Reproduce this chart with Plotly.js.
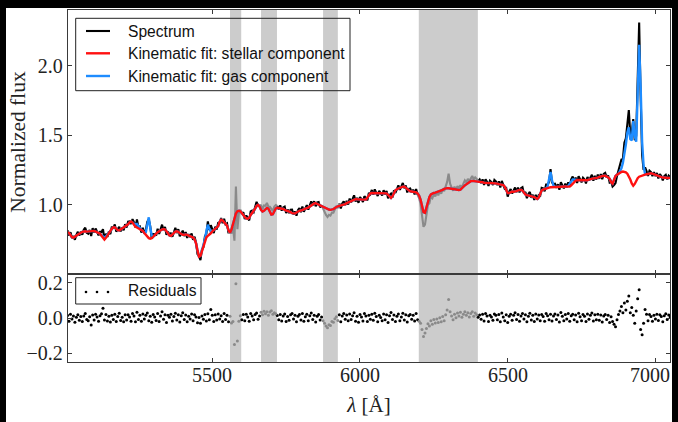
<!DOCTYPE html>
<html>
<head>
<meta charset="utf-8">
<script src="https://cdn.plot.ly/plotly-3.0.1.min.js"></script>
<style>
  html, body { margin: 0; padding: 0; background: #000; width: 678px; height: 422px; overflow: hidden; }
  #plot { position: absolute; left: 6px; top: 8px; width: 666px; height: 414px; background: #fff; }
</style>
</head>
<body>
<div id="plot"></div>
<script>
// Wavelength sampling of the spectrum (Angstrom)
const WAVE_START = 5010;
const WAVE_STEP = 5;

// Best-fitting stellar continuum (normalized flux), one value per 5 A step from 5010 A
const STELLAR = [
  0.800,0.795,0.780,0.765,0.762,0.770,0.778,0.785,0.790,0.797, // 5010
  0.803,0.806,0.807,0.805,0.806,0.810,0.813,0.813,0.810,0.805, // 5060
  0.800,0.797,0.790,0.775,0.757,0.748,0.760,0.780,0.795,0.810, // 5110
  0.825,0.836,0.835,0.825,0.815,0.813,0.820,0.830,0.837,0.840, // 5160
  0.845,0.858,0.872,0.878,0.870,0.855,0.840,0.835,0.830,0.822, // 5210
  0.817,0.810,0.795,0.780,0.768,0.758,0.754,0.758,0.768,0.782, // 5260
  0.791,0.800,0.808,0.815,0.820,0.823,0.820,0.808,0.790,0.778, // 5310
  0.775,0.785,0.797,0.805,0.807,0.804,0.795,0.786,0.782,0.782, // 5360
  0.785,0.782,0.776,0.771,0.769,0.762,0.750,0.720,0.670,0.625, // 5410
  0.630,0.665,0.700,0.740,0.763,0.775,0.782,0.793,0.806,0.815, // 5460
  0.822,0.832,0.845,0.875,0.890,0.885,0.872,0.865,0.848,0.815, // 5510
  0.797,0.820,0.860,0.890,0.935,0.952,0.955,0.951,0.940,0.925, // 5560
  0.910,0.900,0.898,0.905,0.925,0.945,0.955,0.970,0.990,0.998, // 5610
  0.985,0.962,0.950,0.955,0.967,0.975,0.970,0.950,0.928,0.930, // 5660
  0.955,0.972,0.976,0.975,0.974,0.973,0.968,0.962,0.958,0.957, // 5710
  0.952,0.945,0.938,0.934,0.935,0.942,0.950,0.955,0.957,0.960, // 5760
  0.966,0.970,0.974,0.978,0.985,0.995,1.003,1.008,1.010,1.005, // 5810
  0.998,0.992,0.990,0.985,0.977,0.970,0.966,0.964,0.962,0.962, // 5860
  0.966,0.975,0.983,0.987,0.990,0.993,0.996,0.998,1.003,1.010, // 5910
  1.015,1.020,1.023,1.030,1.036,1.039,1.038,1.036,1.034,1.034, // 5960
  1.035,1.035,1.036,1.050,1.068,1.080,1.083,1.083,1.082,1.082, // 6010
  1.083,1.083,1.082,1.080,1.080,1.082,1.080,1.070,1.055,1.047, // 6060
  1.060,1.085,1.103,1.110,1.115,1.120,1.125,1.128,1.129,1.120, // 6110
  1.110,1.100,1.095,1.094,1.092,1.090,1.087,1.080,1.065,1.035, // 6160
  0.990,0.945,0.940,0.985,1.030,1.055,1.072,1.080,1.083,1.086, // 6210
  1.090,1.092,1.094,1.100,1.106,1.112,1.116,1.118,1.117,1.115, // 6260
  1.112,1.109,1.107,1.106,1.105,1.105,1.107,1.115,1.128,1.138, // 6310
  1.145,1.155,1.163,1.168,1.170,1.169,1.167,1.166,1.165,1.164, // 6360
  1.162,1.160,1.157,1.155,1.154,1.154,1.155,1.155,1.154,1.154, // 6410
  1.152,1.150,1.147,1.145,1.142,1.140,1.128,1.100,1.082,1.082, // 6460
  1.090,1.093,1.092,1.093,1.097,1.102,1.105,1.106,1.100,1.085, // 6510
  1.072,1.068,1.066,1.064,1.060,1.056,1.053,1.047,1.040,1.050, // 6560
  1.078,1.100,1.108,1.113,1.117,1.120,1.122,1.124,1.125,1.126, // 6610
  1.127,1.128,1.129,1.129,1.130,1.131,1.131,1.130,1.129,1.129, // 6660
  1.130,1.138,1.150,1.160,1.172,1.177,1.176,1.175,1.174,1.173, // 6710
  1.172,1.172,1.175,1.180,1.184,1.187,1.188,1.189,1.190,1.194, // 6760
  1.198,1.203,1.206,1.208,1.207,1.203,1.195,1.185,1.160,1.150, // 6810
  1.175,1.205,1.215,1.222,1.230,1.235,1.237,1.237,1.232,1.222, // 6860
  1.205,1.180,1.152,1.135,1.148,1.172,1.190,1.200,1.205,1.210, // 6910
  1.213,1.215,1.218,1.221,1.224,1.225,1.222,1.217,1.211,1.206, // 6960
  1.202,1.200,1.197,1.194,1.192,1.190,1.190,1.191,1.192        // 7010
];

// Fit residuals (spectrum minus total fit), same sampling
const RESIDUALS = [
  0.014,-0.018,0.021,-0.006,0.011,-0.024,0.004,0.019,-0.013,0.008,   // 5010
  -0.020,0.012,0.026,-0.009,-0.016,0.007,-0.040,0.017,-0.011,0.022,  // 5060
  0.005,-0.019,0.013,0.024,0.055,-0.012,0.020,-0.017,0.010,-0.023,   // 5110
  0.016,-0.008,0.022,-0.020,0.009,0.027,-0.014,0.004,-0.022,0.018,   // 5160
  -0.011,0.019,0.006,-0.018,0.025,0.012,-0.021,0.032,-0.008,0.015,   // 5210
  -0.019,0.023,-0.005,0.016,0.028,-0.015,0.010,-0.024,0.020,0.006,   // 5260
  -0.014,0.026,-0.020,0.012,0.035,-0.007,0.018,-0.026,0.015,0.004,   // 5310
  0.021,-0.017,0.008,0.027,-0.012,0.019,-0.023,0.013,0.030,-0.009,   // 5360
  0.017,-0.022,0.010,-0.005,0.023,-0.015,0.018,0.006,-0.027,0.003,   // 5410
  -0.030,0.011,-0.007,0.020,-0.017,0.024,-0.010,0.048,0.015,-0.020,  // 5460
  0.018,-0.012,0.023,-0.005,0.013,-0.020,0.026,-0.009,0.016,-0.022,  // 5510
  0.010,-0.028,-0.020,-0.150,0.195,-0.130,-0.018,0.013,-0.010,0.020, // 5560
  -0.015,0.021,0.006,-0.019,0.025,0.011,-0.010,0.020,0.029,-0.007,   // 5610
  0.012,0.032,0.018,0.038,0.024,0.036,0.015,0.034,0.041,0.022,       // 5660
  0.030,0.024,0.014,-0.010,0.020,-0.017,0.011,0.023,-0.020,0.008,    // 5710
  -0.013,0.018,0.026,-0.006,0.015,-0.022,0.010,0.020,-0.012,0.025,   // 5760
  -0.018,0.007,0.022,-0.015,0.013,0.028,-0.009,0.016,-0.023,0.010,   // 5810
  0.020,-0.012,0.005,-0.016,-0.030,-0.045,-0.055,-0.038,-0.042,-0.020, // 5860
  -0.024,-0.004,0.007,-0.014,0.018,-0.022,0.012,0.025,-0.007,0.017,  // 5910
  -0.015,0.023,-0.008,0.013,0.030,-0.018,0.010,-0.024,0.020,0.005,   // 5960
  -0.017,0.025,0.012,-0.020,0.016,-0.007,0.022,-0.013,0.027,0.008,   // 6010
  -0.022,0.015,0.003,-0.015,0.023,-0.010,0.018,-0.025,0.013,0.031,   // 6060
  -0.009,0.017,-0.020,0.010,0.023,-0.015,0.005,0.027,-0.012,0.018,   // 6110
  -0.023,0.013,0.020,-0.007,0.015,-0.017,0.025,-0.010,-0.018,-0.030, // 6160
  -0.065,-0.105,-0.085,-0.060,-0.032,-0.045,-0.015,-0.035,-0.008,-0.028, // 6210
  -0.005,-0.026,0.002,-0.022,0.008,-0.016,0.018,0.045,0.105,0.035,   // 6260
  0.012,-0.010,0.022,0.002,0.028,0.012,0.032,0.004,0.022,0.036,      // 6310
  0.015,0.030,0.006,0.026,0.036,0.010,0.028,0.018,0.004,0.017,       // 6360
  -0.007,0.021,-0.017,0.026,0.011,-0.020,0.016,0.006,-0.013,0.023,   // 6410
  0.015,-0.010,0.020,-0.022,0.028,0.005,-0.015,0.018,-0.025,0.010,   // 6460
  0.022,-0.013,0.016,0.030,-0.008,0.020,-0.018,0.012,0.025,-0.006,   // 6510
  0.018,-0.022,0.010,0.027,-0.012,0.015,-0.020,0.023,-0.005,0.017,   // 6560
  -0.015,0.020,0.008,-0.018,0.026,0.013,-0.010,0.021,-0.017,0.012,   // 6610
  0.023,-0.008,0.017,-0.023,0.031,0.010,-0.015,0.020,-0.005,0.025,   // 6660
  -0.018,0.013,0.022,-0.010,0.017,-0.022,0.027,0.007,-0.015,0.020,   // 6710
  0.010,-0.020,0.023,-0.007,0.015,0.028,-0.017,0.018,-0.010,0.022,   // 6760
  -0.013,0.017,-0.023,0.012,0.020,-0.008,0.015,-0.026,0.007,-0.020,  // 6810
  -0.035,-0.050,-0.010,0.020,0.040,0.065,0.030,0.085,0.045,0.095,    // 6860
  0.125,0.030,0.060,0.015,-0.030,0.040,0.110,0.160,-0.065,-0.095,    // 6910
  -0.030,0.048,0.022,-0.015,0.020,0.009,-0.018,0.016,-0.006,0.021,   // 6960
  -0.014,0.019,0.008,-0.021,0.013,0.024,-0.009,0.017,0.006           // 7010
];

// Emission-line (gas) component, nonzero only at these wavelengths
const GAS_WAVE = [
  5125,5130,5135,5140,5145,
  5235,5240,5245,5250,5255,
  5275,5280,5285,5290,5295,
  5475,5480,5485,5490,5495,
  6635,6640,6645,6650,6655,
  6705,6710,6715,6720,6725,6730,
  6880,6885,6890,6895,6900,6905,6910,6915,6920,6925,6930,6935,6940,6945,6950,6955,6960,6965
];
const GAS_FLUX = [
  0.004,0.010,0.015,0.010,0.004,
  0.005,0.015,0.025,0.015,0.005,
  0.020,0.080,0.150,0.080,0.020,
  0.010,0.045,0.080,0.045,0.010,
  0.010,0.050,0.110,0.050,0.010,
  0.005,0.020,0.030,0.030,0.020,0.005,
  0.010,0.025,0.063,0.123,0.200,0.295,0.350,0.290,0.310,0.465,0.345,0.280,0.660,0.950,0.645,0.240,0.067,0.005
];

// Wavelength windows excluded from the fit
const MASKS = [[5560, 5598], [5665, 5719], [5875, 5925], [6199, 6399]];

const X_TICKS = [5500, 6000, 6500, 7000];
const FLUX_TICKS = [1.0, 1.5, 2.0];
const RESID_TICKS = [-0.2, 0.0, 0.2];

const LABEL_SPECTRUM = 'Spectrum';
const LABEL_STELLAR = 'Kinematic fit: stellar component';
const LABEL_GAS = 'Kinematic fit: gas component';
const LABEL_RESID = 'Residuals';

// ---- derived series ----
const wave = STELLAR.map((_, i) => WAVE_START + i * WAVE_STEP);
const gas = wave.map(w => { const k = GAS_WAVE.indexOf(w); return k < 0 ? 0 : GAS_FLUX[k]; });
const totalFit = STELLAR.map((s, i) => s + gas[i]);
const spectrum = totalFit.map((t, i) => t + RESIDUALS[i]);

const inMask = w => MASKS.some(([a, b]) => w >= a && w <= b);
const masked = wave.map(inMask);
const maskedEdge = wave.map((w, i) => masked[i] || (i > 0 && masked[i - 1]) || (i < wave.length - 1 && masked[i + 1]));

const specFit = spectrum.map((v, i) => masked[i] ? null : v);
const specMasked = spectrum.map((v, i) => maskedEdge[i] ? v : null);
const residFit = RESIDUALS.map((v, i) => masked[i] ? null : v);
const residMasked = RESIDUALS.map((v, i) => masked[i] ? v : null);

const BLACK = '#000000', GREY = '#8a8a8a', RED = '#ff1010', BLUE = '#1e8cff';
const SERIF = 'Liberation Serif, DejaVu Serif, serif';
const SANS = 'Liberation Sans, Arial, sans-serif';

const traces = [
  { x: wave, y: specFit, xaxis: 'x', yaxis: 'y', mode: 'lines', name: LABEL_SPECTRUM,
    line: { color: BLACK, width: 2.1 }, connectgaps: false },
  { x: wave, y: specMasked, xaxis: 'x', yaxis: 'y', mode: 'lines',
    line: { color: GREY, width: 2.1 }, connectgaps: false },
  { x: wave, y: totalFit, xaxis: 'x', yaxis: 'y', mode: 'lines', name: LABEL_GAS,
    line: { color: BLUE, width: 2.4 } },
  { x: wave, y: STELLAR, xaxis: 'x', yaxis: 'y', mode: 'lines', name: LABEL_STELLAR,
    line: { color: RED, width: 2.4 } },
  { x: wave, y: residFit, xaxis: 'x2', yaxis: 'y2', mode: 'markers', name: LABEL_RESID,
    marker: { color: BLACK, size: 3 } },
  { x: wave, y: residMasked, xaxis: 'x2', yaxis: 'y2', mode: 'markers',
    marker: { color: GREY, size: 3 } }
];

// ---- frame geometry (pixels inside the plot div) ----
const DIV_X = 6, DIV_Y = 8;
const PLOT_L = 62, PLOT_T = 2, PLOT_W = 602, PLOT_H = 352;
const px = X => (X - DIV_X - PLOT_L) / PLOT_W;      // page x -> paper x
const py = Y => 1 - (Y - DIV_Y - PLOT_T) / PLOT_H;  // page y -> paper y

const TICK_FONT = { family: SERIF, size: 20, color: '#222' };
const axisCommon = {
  showline: true, linecolor: '#3a3a3a', linewidth: 1.2, mirror: 'ticks',
  ticks: 'inside', ticklen: 4, tickwidth: 1, tickcolor: '#3a3a3a',
  showgrid: false, zeroline: false,
  tickfont: TICK_FONT
};

// grey bands for the excluded windows, spanning both panels
const shapes = MASKS.map(([a, b]) => ({
  type: 'rect', xref: 'x', yref: 'paper', x0: a, x1: b, y0: 0, y1: 1,
  fillcolor: '#cccccc', line: { width: 0 }, layer: 'below'
}));

// legend frames and swatches
const box = (x0, y0, x1, y1) => ({
  type: 'rect', xref: 'paper', yref: 'paper', x0: px(x0), x1: px(x1), y0: py(y1), y1: py(y0),
  line: { color: '#222', width: 1 }, fillcolor: 'rgba(0,0,0,0)', layer: 'above'
});
const swatch = (y, color, width) => ({
  type: 'line', xref: 'paper', yref: 'paper', x0: px(86), x1: px(110), y0: py(y), y1: py(y),
  line: { color: color, width: width }, layer: 'above'
});
const dot = (x, y) => ({
  type: 'circle', xref: 'paper', yref: 'paper', x0: px(x - 1.3), x1: px(x + 1.3), y0: py(y + 1.3), y1: py(y - 1.3),
  fillcolor: BLACK, line: { width: 0 }, layer: 'above'
});
shapes.push(box(75.7, 18.3, 350, 90.7));
shapes.push(swatch(31, BLACK, 2.1), swatch(53.3, RED, 2.4), swatch(76, BLUE, 2.4));
shapes.push(box(75.7, 277.7, 201, 304));
shapes.push(dot(86, 292), dot(97, 292), dot(108, 292));

const legendText = (y, text) => ({
  xref: 'paper', yref: 'paper', x: px(126), y: py(y), xanchor: 'left', yanchor: 'middle',
  text: text, showarrow: false, font: { family: SANS, size: 15.6, color: '#111' }
});
const annotations = [
  legendText(31, LABEL_SPECTRUM),
  legendText(53.3, LABEL_STELLAR),
  legendText(76, LABEL_GAS),
  legendText(290.5, LABEL_RESID)
];

// wavelength tick labels under the residual panel; the last one is kept inside the frame edge
X_TICKS.forEach((t, i) => {
  const last = i === X_TICKS.length - 1;
  annotations.push({
    xref: last ? 'paper' : 'x', yref: 'paper',
    x: last ? px(671.5) : t, y: py(375),
    xanchor: last ? 'right' : 'center', yanchor: 'middle',
    text: String(t), showarrow: false, font: TICK_FONT
  });
});

const layout = {
  width: 666, height: 414,
  margin: { l: PLOT_L, r: 666 - PLOT_L - PLOT_W, t: PLOT_T, b: 414 - PLOT_T - PLOT_H },
  paper_bgcolor: '#ffffff', plot_bgcolor: '#ffffff',
  showlegend: false,
  xaxis: Object.assign({}, axisCommon, {
    domain: [0, 1], anchor: 'y', range: [5011.6, 7049.4],
    tickvals: X_TICKS, showticklabels: false
  }),
  yaxis: Object.assign({}, axisCommon, {
    domain: [0.25, 1], anchor: 'x', range: [0.5, 2.4],
    tickvals: FLUX_TICKS, tickformat: '.1f',
    title: { text: 'Normalized flux', font: { family: SERIF, size: 21.5, color: '#222' }, standoff: 10 }
  }),
  xaxis2: Object.assign({}, axisCommon, {
    domain: [0, 1], anchor: 'y2', range: [5011.6, 7049.4],
    tickvals: X_TICKS, showticklabels: false,
    title: { text: '<i>λ</i> [Å]', font: { family: SERIF, size: 21, color: '#222' }, standoff: 35 }
  }),
  yaxis2: Object.assign({}, axisCommon, {
    domain: [0, 0.25], anchor: 'x2', range: [-0.25, 0.25],
    tickvals: RESID_TICKS, tickformat: '.1f'
  }),
  shapes: shapes,
  annotations: annotations
};

Plotly.newPlot('plot', traces, layout, { staticPlot: true, displayModeBar: false });
</script>
</body>
</html>
